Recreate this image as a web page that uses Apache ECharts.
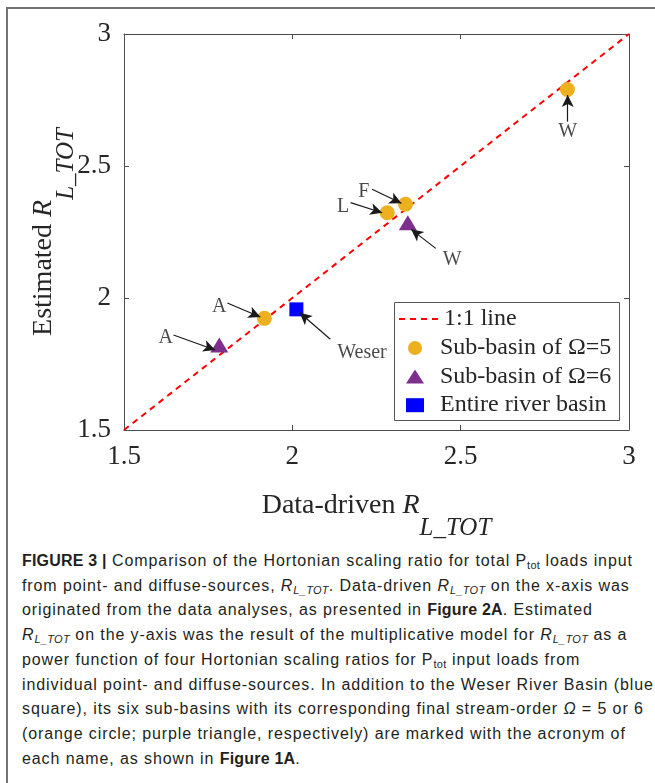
<!DOCTYPE html>
<html>
<head>
<meta charset="utf-8">
<script src="https://cdn.jsdelivr.net/npm/echarts@6/dist/echarts.min.js"></script>
<style>
  html, body { margin: 0; padding: 0; background: #fff; }
  body { width: 655px; height: 783px; position: relative; overflow: hidden; }
  #frame {
    position: absolute; left: 6px; top: 7px; right: -4px; bottom: -4px;
    border-top: 2px solid #737373; border-left: 2px solid #737373;
  }
  #chart { position: absolute; left: 0; top: 0; width: 655px; height: 540px; }
  #caption {
    position: absolute; left: 22px; top: 549px;
    font-family: "Liberation Sans", Arial, sans-serif; font-size: 16px;
    line-height: 24.7px; color: #231f20; white-space: nowrap; letter-spacing: 0.9px;
  }
  #caption sub { font-size: 11px; vertical-align: -3px; line-height: 0; letter-spacing: 0.3px; }
  #caption b { font-weight: bold; letter-spacing: 0.2px; }
</style>
</head>
<body>
<div id="frame"></div>
<div id="chart"></div>
<div id="caption">
  <div><b>FIGURE 3 |</b> Comparison of the Hortonian scaling ratio for total P<sub>tot</sub> loads input</div>
  <div>from point- and diffuse-sources, <i>R<sub>L_TOT</sub></i>. Data-driven <i>R<sub>L_TOT</sub></i> on the x-axis was</div>
  <div>originated from the data analyses, as presented in <b>Figure 2A</b>. Estimated</div>
  <div><i>R<sub>L_TOT</sub></i> on the y-axis was the result of the multiplicative model for <i>R<sub>L_TOT</sub></i> as a</div>
  <div>power function of four Hortonian scaling ratios for P<sub>tot</sub> input loads from</div>
  <div>individual point- and diffuse-sources. In addition to the Weser River Basin (blue</div>
  <div>square), its six sub-basins with its corresponding final stream-order <i>Ω</i> = 5 or 6</div>
  <div>(orange circle; purple triangle, respectively) are marked with the acronym of</div>
  <div>each name, as shown in <b>Figure 1A</b>.</div>
</div>
<script>
  // data: [data-driven, estimated]
  var oneToOne = [[1.5, 1.5], [3, 3]]
  var subBasin5 = [[1.917, 1.923], [2.282, 2.323], [2.336, 2.355], [2.817, 2.790]]
  var subBasin6 = [[1.783, 1.822], [2.343, 2.285]]
  var entireBasin = [[2.012, 1.957]]

  // annotation labels and arrows (data coords)
  var annotNames = ['A', 'A', 'Weser', 'L', 'F', 'W', 'W']
  var annotText = [[1.783, 1.968], [1.624, 1.848], [2.207, 1.794], [2.151, 2.347], [2.212, 2.401], [2.475, 2.145], [2.818, 2.629]]
  var arrowFrom = [[1.807, 1.981], [1.647, 1.860], [2.113, 1.844], [2.173, 2.361], [2.237, 2.412], [2.426, 2.188], [2.818, 2.668]]
  var arrowTo = [[1.905, 1.928], [1.771, 1.803], [2.022, 1.944], [2.267, 2.323], [2.324, 2.359], [2.353, 2.260], [2.818, 2.769]]

  var serif = '"Liberation Serif", "Times New Roman", serif'
  var axisColor = '#4d4d4d'
  var textColor = '#262626'

  var nameRich = {
    m: { fontFamily: serif, fontSize: 28, color: textColor },
    r: { fontFamily: serif, fontSize: 28, fontStyle: 'italic', color: textColor },
    s: { fontFamily: serif, fontSize: 25, fontStyle: 'italic', color: textColor, padding: [46, 0, 0, 0] }
  }

  function baseAxis(pos, showLabel) {
    return {
      type: 'value',
      position: pos,
      min: 1.5,
      max: 3,
      interval: 0.5,
      axisLine: { show: true, onZero: false, lineStyle: { color: axisColor, width: 1 } },
      axisTick: { show: true, inside: true, length: 5, lineStyle: { color: axisColor } },
      axisLabel: {
        show: showLabel,
        fontFamily: serif,
        fontSize: 27,
        color: textColor,
        margin: 13
      },
      splitLine: { show: false }
    }
  }

  var xMain = baseAxis('bottom', true)
  xMain.name = '{m|Data-driven }{r|R}{s|L_TOT}'
  xMain.nameLocation = 'middle'
  xMain.nameGap = 40
  xMain.nameMoveOverlap = false
  xMain.nameTextStyle = { rich: nameRich }

  var yMain = baseAxis('left', true)
  yMain.name = '{m|Estimated }{r|R}{s|L_TOT}'
  yMain.nameLocation = 'middle'
  yMain.nameGap = 45
  yMain.nameMoveOverlap = false
  yMain.nameTextStyle = { rich: nameRich }

  var annotPoints = annotNames.map(function (n, i) {
    return { name: n, value: annotText[i] }
  })
  var arrows = annotNames.map(function (n, i) {
    return [{ coord: arrowFrom[i] }, { coord: arrowTo[i] }]
  })

  var legendText = { fontFamily: serif, fontSize: 24, lineHeight: 24, color: textColor }

  var chart = echarts.init(document.getElementById('chart'))
  chart.setOption({
    animation: false,
    backgroundColor: 'transparent',
    grid: { left: 124, top: 34, width: 505, height: 396, outerBoundsMode: 'none', containLabel: false },
    xAxis: [xMain, baseAxis('top', false)],
    yAxis: [yMain, baseAxis('right', false)],
    graphic: [{
      type: 'rect',
      left: 394,
      top: 302,
      z: 20,
      shape: { width: 225, height: 118 },
      style: { fill: '#fff', stroke: '#555', lineWidth: 1 }
    }],
    legend: [
      {
        orient: 'vertical',
        left: 398,
        top: 307,
        padding: 0,
        itemWidth: 40,
        itemHeight: 14,
        z: 30,
        textStyle: legendText,
        data: [{ name: '1:1 line', itemStyle: { opacity: 0 } }]
      },
      {
        orient: 'vertical',
        left: 406,
        top: 336,
        padding: 0,
        itemGap: 4.6,
        itemWidth: 18,
        itemHeight: 14,
        z: 30,
        textStyle: Object.assign({ padding: [0, 0, 0, 11] }, legendText),
        data: ['Sub-basin of Ω=5', 'Sub-basin of Ω=6', 'Entire river basin']
      }
    ],
    series: [
      {
        name: '1:1 line',
        type: 'line',
        data: oneToOne,
        symbol: 'none',
        lineStyle: { color: '#ff0000', width: 2, type: [6, 5] },
        itemStyle: { color: '#ff0000' },
        z: 2
      },
      {
        name: 'Sub-basin of Ω=5',
        type: 'scatter',
        data: subBasin5,
        symbol: 'circle',
        symbolSize: 15,
        itemStyle: { color: '#edb120', opacity: 1 },
        z: 3
      },
      {
        name: 'Sub-basin of Ω=6',
        type: 'scatter',
        data: subBasin6,
        symbol: 'triangle',
        symbolSize: [18, 15],
        itemStyle: { color: '#7e2f8e', opacity: 1 },
        z: 3
      },
      {
        name: 'Entire river basin',
        type: 'scatter',
        data: entireBasin,
        symbol: 'rect',
        symbolSize: 14,
        itemStyle: { color: '#0000ff', opacity: 1 },
        z: 3
      },
      {
        name: 'labels',
        type: 'scatter',
        data: annotPoints,
        symbolSize: 0,
        silent: true,
        label: {
          show: true,
          position: 'inside',
          formatter: '{b}',
          fontFamily: serif,
          fontSize: 20,
          color: '#1a1a1a'
        },
        markLine: {
          silent: true,
          symbol: ['none', 'arrow'],
          symbolSize: [9, 12],
          label: { show: false },
          lineStyle: { color: '#1a1a1a', width: 1.2, type: 'solid' },
          data: arrows
        },
        z: 4
      }
    ]
  })
</script>
</body>
</html>
